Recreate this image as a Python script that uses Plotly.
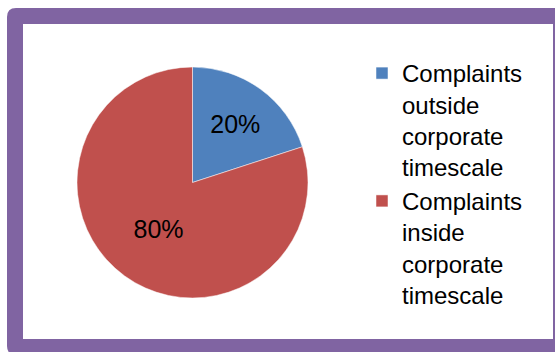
import plotly.graph_objects as go

# Complaint handling split against the corporate timescale
categories = ["Complaints<br>outside<br>corporate<br>timescale",
              "Complaints<br>inside<br>corporate<br>timescale"]
shares = [20, 80]
colors = ["#4F81BD", "#C0504D"]

W, H = 555, 352
FONT = "Arial, Liberation Sans, sans-serif"


def fx(px):
    return px / W


def fy(py):
    return 1 - py / H


fig = go.Figure(
    go.Pie(
        labels=categories,
        values=shares,
        marker=dict(colors=colors, line=dict(color="white", width=0.5)),
        sort=False,
        direction="clockwise",
        rotation=0,
        texttemplate="%{percent:.0%}",
        textposition="inside",
        insidetextorientation="horizontal",
        insidetextfont=dict(family=FONT, size=25, color="black"),
        domain=dict(x=[fx(77), fx(308)], y=[fy(298), fy(67)]),
        hoverinfo="label+percent",
    )
)

# Rounded purple frame around the chart area
x0, y0, x1, y1, r = 7, 8, 569, 355, 9
outer = (
    f"M {fx(x0 + r)},{fy(y0)} L {fx(x1 - r)},{fy(y0)} "
    f"Q {fx(x1)},{fy(y0)} {fx(x1)},{fy(y0 + r)} L {fx(x1)},{fy(y1 - r)} "
    f"Q {fx(x1)},{fy(y1)} {fx(x1 - r)},{fy(y1)} L {fx(x0 + r)},{fy(y1)} "
    f"Q {fx(x0)},{fy(y1)} {fx(x0)},{fy(y1 - r)} L {fx(x0)},{fy(y0 + r)} "
    f"Q {fx(x0)},{fy(y0)} {fx(x0 + r)},{fy(y0)} Z"
)
fig.add_shape(type="path", xref="paper", yref="paper", path=outer,
              fillcolor="#8064A2", line=dict(width=0), layer="below")
fig.add_shape(type="rect", xref="paper", yref="paper",
              x0=fx(23), x1=fx(553), y0=fy(339), y1=fy(24),
              fillcolor="white", line=dict(width=0), layer="below")

fig.update_layout(
    width=W,
    height=H,
    margin=dict(l=0, r=0, t=0, b=0),
    paper_bgcolor="white",
    showlegend=True,
    legend=dict(
        x=fx(362), y=fy(51), xanchor="left", yanchor="top",
        font=dict(family=FONT, size=24, color="black"),
        valign="top",
        bgcolor="rgba(0,0,0,0)",
        itemwidth=30,
        traceorder="normal",
    ),
)

fig.write_html("out.html")
